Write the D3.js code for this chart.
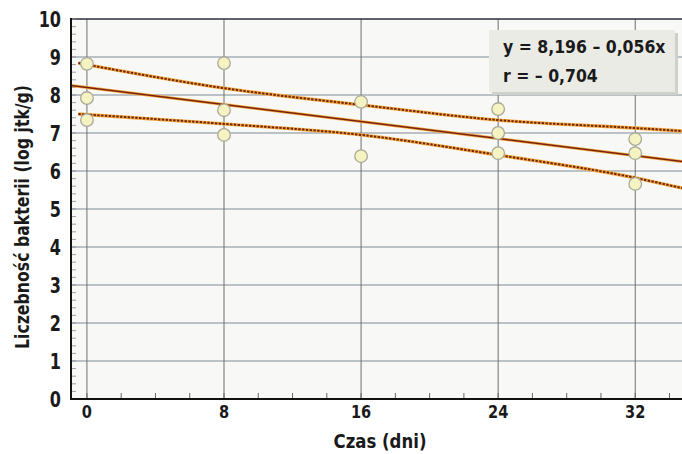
<html>
<head>
  <meta charset="utf-8">
  <title>Liczebność bakterii</title>
  <script src="https://d3js.org/d3.v7.min.js"></script>
  <style>
    body { margin: 0; background: #fff; }
    text { font-family: "DejaVu Sans Condensed", "Liberation Sans Narrow", sans-serif; font-weight: bold; fill: #1a1a1a; }
  </style>
</head>
<body>
<script>
  var width = 682;
  var height = 454;

  // dane
  var days = [0, 0, 0, 8, 8, 8, 16, 16, 24, 24, 24, 32, 32, 32];
  var counts = [8.82, 7.92, 7.34, 8.84, 7.60, 6.95, 7.82, 6.39, 7.63, 7.00, 6.47, 6.84, 6.47, 5.66];
  var intercept = 8.196, slope = -0.056;
  var bandX = [-0.5, 8, 16, 24, 32, 34.73];
  var upperBand = [8.84, 8.18, 7.74, 7.34, 7.13, 7.05];
  var lowerBand = [7.50, 7.24, 6.95, 6.42, 5.82, 5.55];
  var xTicks = [0, 8, 16, 24, 32];
  var yTicks = [0, 1, 2, 3, 4, 5, 6, 7, 8, 9, 10];

  var svg = d3.select('body').append('svg')
    .attr('width', width)
    .attr('height', height);

  var x = d3.scaleLinear().domain([-0.93, 34.73]).range([71, 682]);
  var y = d3.scaleLinear().domain([0, 10]).range([399, 19]);

  // waski napis: przesuniecie + sciesnienie w poziomie
  function label(parent, px, py, size, sx, anchor, txt, rot) {
    return parent.append('text')
      .attr('transform', 'translate(' + px + ',' + py + ')' + (rot ? ' rotate(' + rot + ')' : '') + ' scale(' + sx + ',1)')
      .attr('text-anchor', anchor)
      .attr('font-size', size)
      .text(txt);
  }

  svg.append('defs').append('clipPath').attr('id', 'plot')
    .append('rect').attr('x', 71).attr('y', 19).attr('width', 611).attr('height', 380);

  // tlo obszaru
  svg.append('rect')
    .attr('x', 71).attr('y', 19).attr('width', 611).attr('height', 380)
    .attr('fill', '#f8f8f7');

  var grid = svg.append('g');
  // poziome linie
  grid.selectAll('line.h')
    .data(yTicks.slice(1, -1))
    .enter().append('line')
    .attr('x1', 71).attr('x2', 682)
    .attr('y1', d => y(d)).attr('y2', d => y(d))
    .attr('stroke', '#7e8b96').attr('stroke-width', 1);
  // pionowe linie
  grid.selectAll('line.v')
    .data(xTicks)
    .enter().append('line')
    .attr('x1', d => x(d)).attr('x2', d => x(d))
    .attr('y1', 19).attr('y2', 399)
    .attr('stroke', '#6f6f6f').attr('stroke-width', 1);

  // gorna ramka
  svg.append('line')
    .attr('x1', 71).attr('x2', 682).attr('y1', y(10)).attr('y2', y(10))
    .attr('stroke', '#2b2f3a').attr('stroke-width', 1.5);

  // male podzialki
  var minorY = d3.range(0, 10.01, 0.2);
  svg.append('g').selectAll('line')
    .data(minorY)
    .enter().append('line')
    .attr('x1', 71).attr('x2', 76)
    .attr('y1', d => y(d)).attr('y2', d => y(d))
    .attr('stroke', '#888').attr('stroke-width', 0.8);
  var minorX = d3.range(0, 35, 2);
  svg.append('g').selectAll('line')
    .data(minorX)
    .enter().append('line')
    .attr('x1', d => x(d)).attr('x2', d => x(d))
    .attr('y1', 399).attr('y2', 393)
    .attr('stroke', '#666').attr('stroke-width', 1);

  var plot = svg.append('g').attr('clip-path', 'url(#plot)');

  var band = d3.line()
    .x((d, i) => x(bandX[i]))
    .y(d => y(d))
    .curve(d3.curveMonotoneX);

  [upperBand, lowerBand].forEach(function(b) {
    plot.append('path').attr('d', band(b))
      .attr('fill', 'none').attr('stroke', '#f3a73c').attr('stroke-width', 3.4);
    plot.append('path').attr('d', band(b))
      .attr('fill', 'none').attr('stroke', '#6e2410').attr('stroke-width', 2)
      .attr('stroke-dasharray', '2.4,1.4');
  });

  // linia regresji
  var regX = x.domain();
  plot.append('line')
    .attr('x1', x(regX[0])).attr('y1', y(intercept + slope * regX[0]))
    .attr('x2', x(regX[1])).attr('y2', y(intercept + slope * regX[1]))
    .attr('stroke', '#f3a73c').attr('stroke-width', 3);
  plot.append('line')
    .attr('x1', x(regX[0])).attr('y1', y(intercept + slope * regX[0]))
    .attr('x2', x(regX[1])).attr('y2', y(intercept + slope * regX[1]))
    .attr('stroke', '#7a2210').attr('stroke-width', 1.5);

  // punkty
  plot.selectAll('circle')
    .data(counts)
    .enter().append('circle')
    .attr('cx', (d, i) => x(days[i]))
    .attr('cy', d => y(d))
    .attr('r', 6.3)
    .attr('fill', '#f6f3c2')
    .attr('stroke', '#a8a898')
    .attr('stroke-width', 1.3);

  // osie
  svg.append('line')
    .attr('x1', 71).attr('x2', 71).attr('y1', 18).attr('y2', 400)
    .attr('stroke', '#111').attr('stroke-width', 2);
  svg.append('line')
    .attr('x1', 70).attr('x2', 682).attr('y1', 399).attr('y2', 399)
    .attr('stroke', '#111').attr('stroke-width', 2);

  var yl = svg.append('g');
  yTicks.forEach(function(t) {
    label(yl, 61, y(t) + 7.6, 21, 0.85, 'end', t);
  });

  var xl = svg.append('g');
  xTicks.forEach(function(t) {
    label(xl, x(t), 418, 18, 0.9, 'middle', t);
  });

  label(svg, 380, 448, 20, 0.92, 'middle', 'Czas (dni)');
  label(svg, 29, 217, 19, 0.92, 'middle', 'Liczebność bakterii (log jtk/g)', -90);

  // ramka z rownaniem
  var box = svg.append('g');
  box.append('rect')
    .attr('x', 492).attr('y', 33).attr('width', 186).attr('height', 62)
    .attr('fill', '#cfcfcb');
  box.append('rect')
    .attr('x', 489).attr('y', 30).attr('width', 186).attr('height', 62)
    .attr('fill', '#ebebe6');
  label(box, 503, 53, 18, 0.97, 'start', 'y = 8,196 – 0,056x');
  label(box, 503, 82, 18, 0.97, 'start', 'r = – 0,704');
</script>
</body>
</html>
